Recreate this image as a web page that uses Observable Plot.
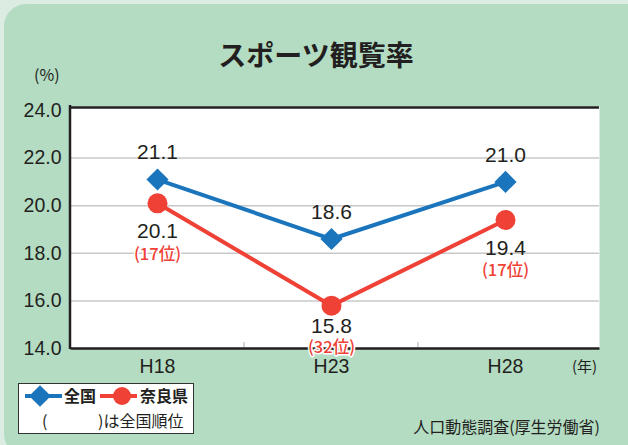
<!DOCTYPE html>
<html><head><meta charset="utf-8">
<script src="https://cdn.jsdelivr.net/npm/d3@7"></script>
<script src="https://cdn.jsdelivr.net/npm/@observablehq/plot@0.6"></script>
<style>
html,body{margin:0;padding:0;}
#wrap{position:relative;width:628px;height:445px;overflow:hidden;background:#dcece2;font-family:"Noto Sans CJK JP","Liberation Sans",sans-serif;color:#231f20;}
#panel{position:absolute;left:4px;top:4px;width:680px;height:452px;border-radius:22px;background:#b3dcc3;}
#chart{position:absolute;left:0;top:0;}
.t{position:absolute;white-space:nowrap;line-height:1;}
#title{left:0;width:632px;text-align:center;top:40px;font-size:28px;font-weight:bold;}
#unit{left:34px;top:66px;font-size:16px;}
#nen{left:572px;top:358px;font-size:15px;}
#src{right:28px;top:418px;font-size:16px;}
#legend{position:absolute;left:18px;top:383px;width:174px;height:49px;border:1.5px solid #333;background:#fff;}
</style></head>
<body><div id="wrap"><div id="panel"></div><div id="chart"></div>
<div class="t" id="title">スポーツ観覧率</div>
<div class="t" id="unit">(%)</div>
<div class="t" id="nen">(年)</div>
<div class="t" id="src">人口動態調査(厚生労働省)</div>
<div id="legend"></div>
</div>
<script>
const years = ["H18", "H23", "H28"];
const national = [21.1, 18.6, 21.0];
const nara = [20.1, 15.8, 19.4];
const naraRank = [17, 32, 17];
const yTicks = [14, 16, 18, 20, 22, 24];
const seriesNames = ["全国", "奈良県"];
const rankNote = "は全国順位";
const BLUE = "#1b75bc", RED = "#ef4136", INK = "#231f20";
const NUM = "'Liberation Sans', Arial, sans-serif";
const JP = "'Noto Sans CJK JP', sans-serif";

const natData = years.map((y, i) => ({year: y, value: national[i]}));
const naraData = years.map((y, i) => ({year: y, value: nara[i], rank: naraRank[i]}));

const frameLines = (index, scales, values, dims) => {
  const g = d3.create("svg:g");
  const L = dims.marginLeft, T = dims.marginTop, B = dims.height - dims.marginBottom;
  // band-boundary ticks on the bottom axis
  for (let i = 1; i < years.length; i++) {
    const x = (scales.x(years[i - 1]) + scales.x(years[i])) / 2;
    g.append("line").attr("x1", x).attr("x2", x).attr("y1", B - 6).attr("y2", B)
      .attr("stroke", "#c8c8c8").attr("stroke-width", 1.5);
  }
  g.append("line").attr("x1", L).attr("x2", L).attr("y1", T - 5).attr("y2", B + 1)
    .attr("stroke", INK).attr("stroke-width", 2.5);
  return g.node();
};

const plot = Plot.plot({
  width: 628, height: 445,
  marginLeft: 70, marginRight: 29, marginTop: 110, marginBottom: 97,
  style: {background: "transparent", overflow: "visible"},
  x: {type: "point", domain: years, range: [157, 505], padding: 0, axis: null},
  y: {domain: [14, 24], axis: null},
  marks: [
    Plot.frame({fill: "white", stroke: "none", insetTop: -4}),
    Plot.gridY(yTicks.filter(t => t > 14 && t < 24), {stroke: "#c8c8c8", strokeOpacity: 1, strokeWidth: 1.5}),
    frameLines,
    Plot.ruleY([24], {stroke: INK, strokeWidth: 2.5, dy: -3}),
    Plot.ruleY([14], {stroke: INK, strokeWidth: 2.5, dx: 0.5}),
    Plot.axisY({ticks: yTicks, tickSize: 0, tickPadding: 9, tickFormat: d => d.toFixed(1), label: null,
      fontSize: 19.5, fontFamily: NUM, fill: INK}),
    Plot.axisX({tickSize: 0, tickPadding: 11, fontSize: 19.5, fontFamily: NUM, fill: INK, label: null}),
    Plot.line(natData, {x: "year", y: "value", stroke: BLUE, strokeWidth: 4}),
    Plot.line(naraData, {x: "year", y: "value", stroke: RED, strokeWidth: 4}),
    Plot.dot(natData, {x: "year", y: "value", symbol: "diamond2", r: 10, fill: BLUE, stroke: "none"}),
    Plot.dot(naraData, {x: "year", y: "value", symbol: "circle", r: 10, fill: RED, stroke: "none"}),
    Plot.text(natData, {x: "year", y: "value", text: d => d.value.toFixed(1), dy: -27,
      fontSize: 21, fontFamily: NUM, fill: INK}),
    Plot.text(naraData.filter(d => d.year !== "H23"), {x: "year", y: "value", text: d => d.value.toFixed(1), dy: 28,
      fontSize: 21, fontFamily: NUM, fill: INK}),
    Plot.text(naraData.filter(d => d.year === "H23"), {x: "year", y: "value", text: d => d.value.toFixed(1), dy: 21,
      fontSize: 21, fontFamily: NUM, fill: INK}),
    Plot.text(naraData.filter(d => d.year !== "H23"), {x: "year", y: "value", text: d => `(${d.rank}位)`, dy: 51,
      fontSize: 16.5, fontWeight: 500, fontFamily: JP, fill: RED, stroke: "white", strokeWidth: 3}),
    Plot.text(naraData.filter(d => d.year === "H23"), {x: "year", y: "value", text: d => `(${d.rank}位)`, dy: 42,
      fontSize: 16.5, fontWeight: 500, fontFamily: JP, fill: RED, stroke: "white", strokeWidth: 3})
  ]
});
document.getElementById("chart").appendChild(plot);

// legend
const lg = d3.select("#legend").append("svg").attr("width", 174).attr("height", 49)
  .style("font-family", JP);
const row1 = 12;
lg.append("line").attr("x1", 6).attr("x2", 43).attr("y1", row1).attr("y2", row1).attr("stroke", BLUE).attr("stroke-width", 4);
lg.append("path").attr("d", d3.symbol(d3.symbolDiamond2, 300)()).attr("transform", `translate(21,${row1})`).attr("fill", BLUE);
lg.append("text").attr("x", 45).attr("y", row1).attr("dy", "0.36em").attr("font-size", 16).attr("font-weight", "bold").attr("fill", INK).text(seriesNames[0]);
lg.append("line").attr("x1", 81).attr("x2", 118).attr("y1", row1).attr("y2", row1).attr("stroke", RED).attr("stroke-width", 4);
lg.append("circle").attr("cx", 103).attr("cy", row1).attr("r", 9).attr("fill", RED);
lg.append("text").attr("x", 121).attr("y", row1).attr("dy", "0.36em").attr("font-size", 16).attr("font-weight", "bold").attr("fill", INK).text(seriesNames[1]);
lg.append("text").attr("x", 23).attr("y", 37).attr("dy", "0.36em").attr("font-size", 16).attr("fill", INK).text("(");
lg.append("text").attr("x", 79).attr("y", 37).attr("dy", "0.36em").attr("font-size", 16).attr("fill", INK).text(")" + rankNote);
</script></body></html>
